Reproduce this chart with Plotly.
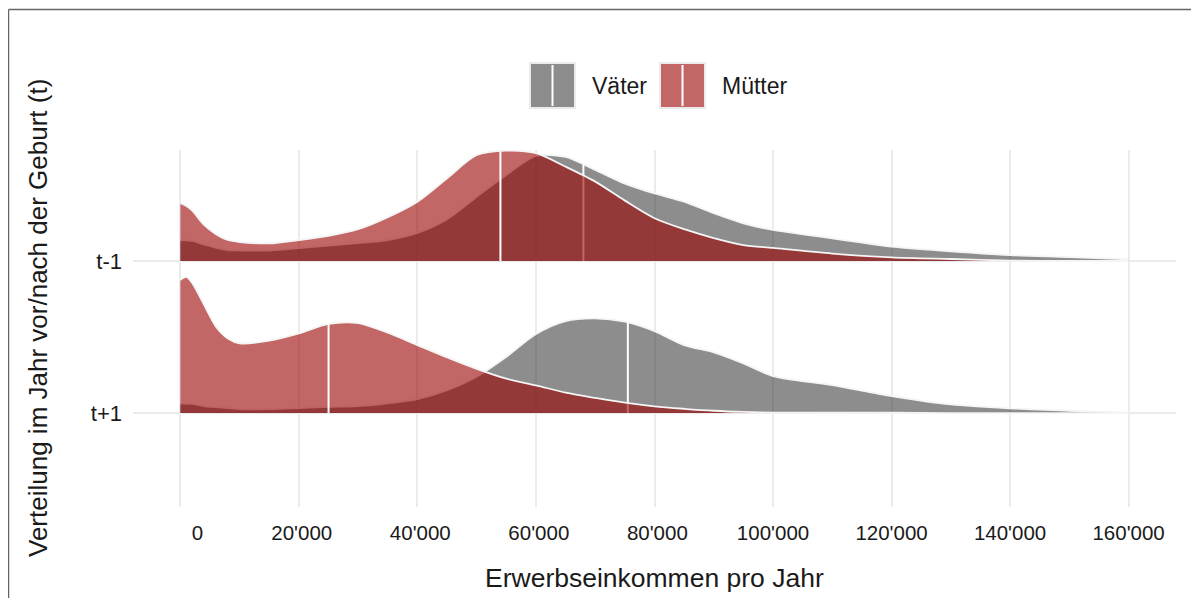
import numpy as np
import plotly.graph_objects as go

# Einkommensraster (CHF pro Jahr)
einkommen = [0, 1000, 2000, 4000, 6000, 8000, 10000, 15000, 20000, 25000, 30000,
             35000, 40000, 45000, 50000, 55000, 60000, 65000, 70000, 75000, 80000,
             85000, 90000, 95000, 100000, 110000, 120000, 130000, 140000, 150000, 160000]

# Dichte (Ridge-Höhe relativ zum Zeilenabstand)
vaeter_tm1 = [0.138, 0.135, 0.132, 0.109, 0.086, 0.072, 0.069, 0.069, 0.084, 0.102, 0.118,
              0.138, 0.184, 0.274, 0.423, 0.566, 0.691, 0.684, 0.599, 0.509, 0.445,
              0.390, 0.314, 0.248, 0.204, 0.149, 0.094, 0.064, 0.039, 0.026, 0.010]
muetter_tm1 = [0.380, 0.362, 0.331, 0.237, 0.176, 0.138, 0.125, 0.116, 0.138, 0.166, 0.209,
               0.288, 0.390, 0.544, 0.697, 0.726, 0.709, 0.620, 0.522, 0.397, 0.281,
               0.209, 0.151, 0.105, 0.086, 0.049, 0.024, 0.013, 0.003, 0.0, 0.0]
vaeter_tp1 = [0.064, 0.062, 0.061, 0.046, 0.039, 0.033, 0.026, 0.026, 0.033, 0.041, 0.046,
              0.064, 0.092, 0.151, 0.239, 0.370, 0.520, 0.605, 0.623, 0.601, 0.539,
              0.447, 0.399, 0.327, 0.243, 0.184, 0.112, 0.057, 0.031, 0.015, 0.003]
muetter_tp1 = [0.875, 0.895, 0.855, 0.711, 0.568, 0.491, 0.459, 0.476, 0.524, 0.586, 0.592,
               0.528, 0.447, 0.366, 0.291, 0.226, 0.182, 0.134, 0.099, 0.068, 0.044,
               0.028, 0.015, 0.007, 0.003, 0.002, 0.002, 0.0, 0.0, 0.0, 0.0]

# Mediane
median_vaeter = {"t-1": 68000, "t+1": 75500}
median_muetter = {"t-1": 54000, "t+1": 25000}

zeilen = ["t+1", "t-1"]
zeilen_pos = {"t+1": 1, "t-1": 2}

x_ticks = [0, 20000, 40000, 60000, 80000, 100000, 120000, 140000, 160000]
x_ticktext = ["\u00a0\u00a0\u00a0\u00a0\u00a0\u00a00", "\u00a020'000", "\u00a040'000",
              "\u00a060'000", "\u00a080'000", "100'000", "120'000", "140'000", "160'000"]

FONT = "Liberation Sans, Arial, sans-serif"
W, H = 1199, 598
OFF = 8  # the page body margin shifts the figure by 8px
L, R, T, B = 133 - OFF, W - (1176 - OFF), 150 - OFF, H - (507 - OFF)

col_vaeter = "rgba(51,51,51,0.56)"
col_muetter = "rgba(153,0,0,0.6)"
col_outline = "rgba(245,245,245,1)"

dichte = {
    ("t-1", "Väter"): vaeter_tm1, ("t-1", "Mütter"): muetter_tm1,
    ("t+1", "Väter"): vaeter_tp1, ("t+1", "Mütter"): muetter_tp1,
}

fig = go.Figure()
x = np.array(einkommen)

for zeile in ["t-1", "t+1"]:
    base = zeilen_pos[zeile]
    for gruppe, col, med in [("Väter", col_vaeter, median_vaeter[zeile]),
                             ("Mütter", col_muetter, median_muetter[zeile])]:
        h = np.array(dichte[(zeile, gruppe)])
        y = base + h
        # baseline
        fig.add_trace(go.Scatter(x=[x[0], x[-1]], y=[base, base], mode="lines",
                                 line=dict(width=0), hoverinfo="skip", showlegend=False))
        # filled ridge
        fig.add_trace(go.Scatter(x=x, y=y, mode="lines", fill="tonexty", fillcolor=col,
                                 line=dict(width=0, shape="spline", smoothing=0.8),
                                 name=gruppe, showlegend=False))
        # outline
        fig.add_trace(go.Scatter(x=x, y=y, mode="lines",
                                 line=dict(color=col_outline, width=1.8, shape="spline", smoothing=0.8),
                                 hoverinfo="skip", showlegend=False))
        # median line
        hm = np.interp(med, x, h)
        fig.add_trace(go.Scatter(x=[med, med], y=[base, base + hm], mode="lines",
                                 line=dict(color="white", width=2),
                                 hoverinfo="skip", showlegend=False))


# page pixel -> paper coords
def px_x(px):
    return (px - OFF - L) / (W - L - R)


def px_y(py):
    return (H - B - (py - OFF)) / (H - T - B)


shapes = []
annotations = []

# manual legend
for x0, fill, label, tx in [(530, "#8c8c8c", "Väter", 590), (660, "#c26666", "Mütter", 720)]:
    shapes.append(dict(type="rect", xref="paper", yref="paper",
                       x0=px_x(x0), x1=px_x(x0 + 45), y0=px_y(108), y1=px_y(63),
                       fillcolor=fill, line=dict(color="#ebebeb", width=2), layer="above"))
    shapes.append(dict(type="line", xref="paper", yref="paper",
                       x0=px_x(x0 + 22.5), x1=px_x(x0 + 22.5), y0=px_y(106), y1=px_y(65),
                       line=dict(color="white", width=2), layer="above"))
    annotations.append(dict(text=label, xref="paper", yref="paper", x=px_x(tx), y=px_y(86),
                            xanchor="left", yanchor="middle", showarrow=False,
                            font=dict(family=FONT, size=23, color="#1a1a1a")))

# outer frame lines (top / left)
shapes.append(dict(type="line", xref="paper", yref="paper", x0=px_x(8.5), x1=px_x(W + 20),
                   y0=px_y(9.5), y1=px_y(9.5), line=dict(color="#666666", width=1.5)))
shapes.append(dict(type="line", xref="paper", yref="paper", x0=px_x(8.5), x1=px_x(8.5),
                   y0=px_y(9.5), y1=px_y(H + 20), line=dict(color="#666666", width=1.5)))

# axis titles
annotations.append(dict(text="Erwerbseinkommen pro Jahr", xref="paper", yref="paper",
                        x=px_x(654), y=px_y(578), xanchor="center", yanchor="middle", showarrow=False,
                        font=dict(family=FONT, size=26.5, color="#1a1a1a")))
annotations.append(dict(text="Verteilung im Jahr vor/nach der Geburt (t)", xref="paper", yref="paper",
                        x=px_x(38), y=px_y(318), xanchor="center", yanchor="middle", showarrow=False,
                        textangle=-90, font=dict(family=FONT, size=26, color="#1a1a1a")))

fig.update_layout(
    width=W, height=H,
    margin=dict(l=L, r=R, t=T, b=B),
    plot_bgcolor="white", paper_bgcolor="white",
    shapes=shapes, annotations=annotations,
    showlegend=False,
    font=dict(family=FONT, color="#1a1a1a"),
)
fig.update_xaxes(range=[-8000, 168000], tickvals=x_ticks, ticktext=x_ticktext,
                 showgrid=True, gridcolor="#ebebeb", gridwidth=1.5, zeroline=False,
                 showline=False, ticks="", ticklabelstandoff=11,
                 tickfont=dict(family=FONT, size=20.5, color="#1a1a1a"))
fig.update_yaxes(range=[0.382, 2.730], tickvals=[zeilen_pos[z] for z in zeilen], ticktext=zeilen,
                 showgrid=True, gridcolor="#ebebeb", gridwidth=1.5, zeroline=False,
                 showline=False, ticks="", ticklabelstandoff=10,
                 tickfont=dict(family=FONT, size=22, color="#1a1a1a"))

fig.write_html("out.html")
